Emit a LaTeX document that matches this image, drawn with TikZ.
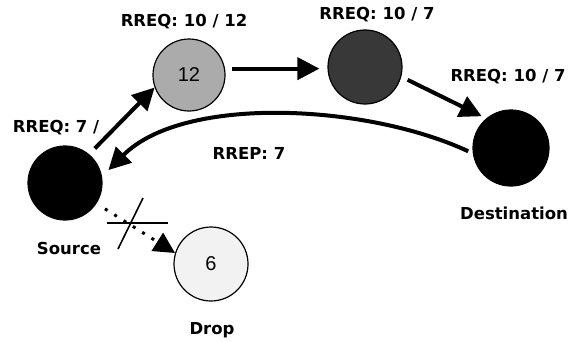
\documentclass[tikz,border=0pt]{standalone}
\usepackage{fontspec}
\setmainfont{DejaVu Sans}
\newfontfamily\numfont{Liberation Sans}
\usetikzlibrary{arrows.meta}
\definecolor{midgray}{HTML}{ABABAB}
\definecolor{darkgray}{HTML}{383838}
\definecolor{palegray}{HTML}{F2F2F2}
\tikzset{
  nodecirc/.style={circle, draw=black, line width=1.2pt, minimum size=74pt, inner sep=0pt, font=\numfont\fontsize{20}{20}\selectfont},
  lbl/.style={font=\bfseries\fontsize{16.5}{17}\selectfont, inner sep=0pt},
  bigarrow/.style={line width=4pt, -{Triangle[length=22pt,width=22pt]}},
  dotarrow/.style={line width=3pt, dash pattern=on 3pt off 8pt, -{Triangle[length=21pt,width=21pt]}},
  crossline/.style={line width=1.6pt}
}
\begin{document}
\begin{tikzpicture}[x=1pt,y=1pt]
\useasboundingbox (0,0) rectangle (581,341);
% nodes
\node[nodecirc, fill=black] (src) at (65,158) {};
\node[nodecirc, fill=midgray, minimum size=72pt] (n12) at (189,266) {12};
\node[nodecirc, fill=darkgray] (dark) at (365,274) {};
\node[nodecirc, fill=black, minimum size=76pt] (dest) at (511,193) {};
\node[nodecirc, fill=palegray] (drop) at (211,77) {6};
% labels
\node[lbl] (l1) at (184,319) {RREQ: 10 / 12};
\node[lbl] (l2) at (377,326) {RREQ: 10 / 7};
\node[lbl] (l3) at (508,264) {RREQ: 10 / 7};
\node[lbl] (l4) at (56,213) {RREQ: 7 /};
\node[lbl] (l5) at (249,188) {RREP: 7};
\node[lbl] (l6) at (514,128) {Destination};
\node[lbl] (l7) at (69,93) {Source};
\node[lbl] (l8) at (212,11) {Drop};
% connectors
\draw[bigarrow, shorten <=8pt] (src.50) -- (n12.200);
\draw[bigarrow, shorten <=7pt, shorten >=8pt] (n12.10) -- (n12.10 -| dark.west);
\draw[bigarrow, shorten <=7pt, shorten >=5pt] (dark.-15) -- (dest.130);
\draw[bigarrow, shorten <=5pt, shorten >=9pt] (dest.188) to[out=155,in=45,looseness=0.8] (src.10);
\draw[dotarrow, shorten <=10pt] (src.-33) -- (drop.163);
% cross marks
\coordinate (h1) at (107,118);
\coordinate (h2) at (168,118);
\coordinate (s1) at (143,143);
\coordinate (s2) at (118,92);
\draw[crossline] (h1) -- (h2);
\draw[crossline] (s1) -- (s2);
\end{tikzpicture}
\end{document}
